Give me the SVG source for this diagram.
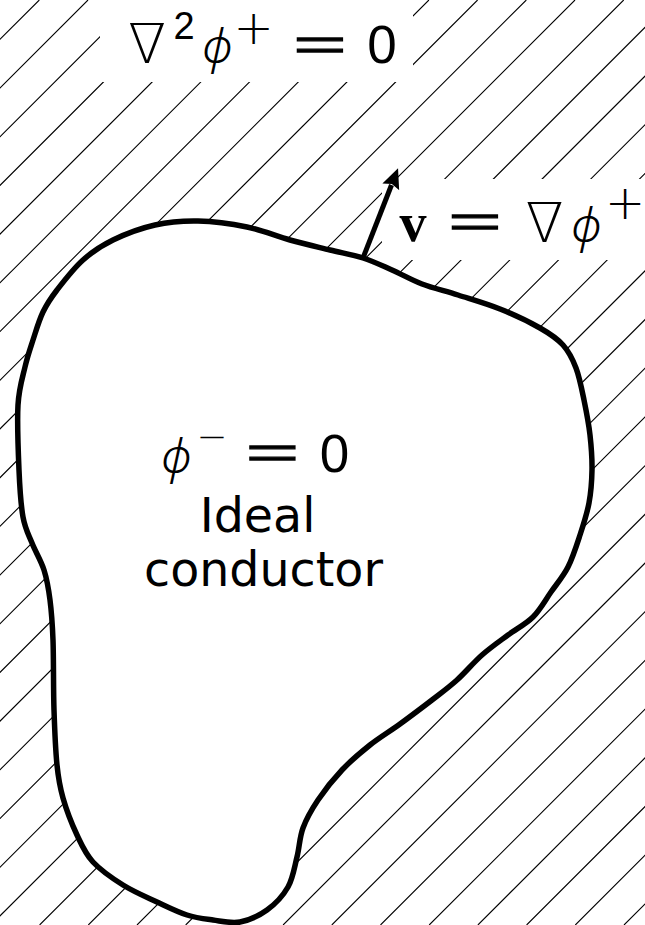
<svg xmlns="http://www.w3.org/2000/svg" width="645" height="925" viewBox="0 0 645 925">
<style>
.hatch{stroke:#000;stroke-width:1.1;fill:none}
.mask{fill:#fff}
.outline{fill:#fff;stroke:#000;stroke-width:5.5;stroke-linejoin:round}
.arrow{stroke:#000;stroke-width:5;fill:none}
.m{font-family:"DejaVu Sans ExtraLight","DejaVu Sans",sans-serif;font-weight:200;fill:#000;text-anchor:middle}
.eq{stroke:#000;stroke-width:1.3}
.d{font-family:"Liberation Sans",Arial,sans-serif;fill:#000;text-anchor:middle}
.phi{font-family:"Noto Sans","DejaVu Sans",sans-serif;font-weight:300;font-style:italic;fill:#000;text-anchor:middle}
.vb{font-family:"Liberation Serif","Times New Roman",serif;font-weight:bold;fill:#000;text-anchor:middle}
.lbl{font-family:"DejaVu Sans",Verdana,sans-serif;font-size:47.5px;fill:#000;text-anchor:middle}
</style>
<defs>
<marker id="ah" markerUnits="userSpaceOnUse" markerWidth="22" markerHeight="20" viewBox="0 0 22 20" refX="2" refY="10" orient="auto">
<path d="M0,1 L20,10 L0,19 L3,10 Z" fill="#000"/>
</marker>
</defs>
<rect width="645" height="925" fill="#fff"/>
<g id="hatching">
<path class="hatch" d="M39.3,0 L-885.7,925 M88,0 L-837,925 M136.7,0 L-788.3,925 M185.4,0 L-739.6,925 M234.1,0 L-690.9,925 M282.8,0 L-642.2,925 M331.5,0 L-593.5,925 M380.2,0 L-544.8,925 M428.9,0 L-496.1,925 M477.6,0 L-447.4,925 M526.3,0 L-398.7,925 M575,0 L-350,925 M623.7,0 L-301.3,925 M672.4,0 L-252.6,925 M721.1,0 L-203.9,925 M769.8,0 L-155.2,925 M818.5,0 L-106.5,925 M867.2,0 L-57.8,925 M915.9,0 L-9.1,925 M964.6,0 L39.6,925 M1013.3,0 L88.3,925 M1062,0 L137,925 M1110.7,0 L185.7,925 M1159.4,0 L234.4,925 M1208.1,0 L283.1,925 M1256.8,0 L331.8,925 M1305.5,0 L380.5,925 M1354.2,0 L429.2,925 M1402.9,0 L477.9,925 M1451.6,0 L526.6,925 M1500.3,0 L575.3,925 M1549,0 L624,925"/>
</g>
<g id="label-boxes">
<rect class="mask" x="100" y="-2" width="313" height="84"/>
<rect class="mask" x="382" y="179" width="265" height="81"/>
</g>
<g id="conductor">
<path class="outline" d="M198,221 C213.3,221.3 231.7,223.8 247,227 S276.2,236.2 290,240 S317.8,247 330,250 S352.7,254.7 363,258 S382.2,265.7 392,270 S411,279.8 422,284 S445,290.8 458,295 S486.3,303.5 500,309 S529.5,322 540,328 S557,338.3 563,345 S572.5,358.8 576,368 S581.7,388.8 584,400 S588.7,423.3 590,435 S592.2,458.7 592,470 S591,492.2 589,503 S583.5,524.3 580,535 S572.8,557.5 568,567 S556.8,583.7 551,592 S540.2,609.8 533,617 S516.5,628.7 508,635 S490.5,647.5 482,655 S465.3,672.5 457,680 S441.5,692.7 432,700 S410.3,716.5 400,724 S379.7,737.3 370,745 S350.7,760.8 342,770 S324.5,790.3 318,800 S306.5,818.5 303,828 S299.5,847.2 297,857 S293,878.2 288,887 S275,904.2 267,910 S249,920.3 240,922 S221.8,921.2 213,920 S196.3,918 187,915 S167.7,907 157,902 S133.7,891.7 123,885 S100.7,870.3 93,862 S82,845.7 77,835 S66.3,809.7 63,798 S58.5,779.7 57,765 S54.7,730.8 54,710 S53.7,658.3 53,640 S51.5,611.7 50,600 S47,579.5 44,570 S35.5,551.8 32,543 S25.2,529.2 23,517 S19.8,488.7 19,470 S17,422.2 18,405 S22.5,377.8 25,367 S30,349.2 33,340 S39,320.3 43,312 S50.3,298.7 57,290 S73.7,268.3 83,260 S101,245.8 113,240 S140.8,228.2 155,225 S182.7,220.7 198,221 Z"/>
<text class="lbl" x="257.5" y="532">Ideal</text>
<text class="lbl" x="263.5" y="586">conductor</text>
<g id="inner-eq">
<text class="phi" x="176.5" y="473" font-size="48">ϕ</text>
<text class="m" x="212" y="449" font-size="37">−</text>
<text class="m eq" x="272.5" y="474.5" font-size="72">=</text>
<text class="d" x="334.5" y="472" font-size="53">0</text>
</g>
</g>
<g id="laplace-label">
<text class="m" x="147" y="63" font-size="55">∇</text>
<text class="d" x="184" y="39" font-size="38">2</text>
<text class="phi" x="217.5" y="63" font-size="48">ϕ</text>
<text class="m" x="253.5" y="44" font-size="48">+</text>
<text class="m eq" x="320" y="66.5" font-size="72">=</text>
<text class="d" x="382" y="63" font-size="53">0</text>
</g>
<g id="velocity-label">
<text class="vb" x="413" y="241" font-size="54">v</text>
<text class="m eq" x="475" y="244" font-size="72">=</text>
<text class="m" x="544.5" y="242" font-size="55">∇</text>
<text class="phi" x="586.5" y="242" font-size="48">ϕ</text>
<text class="m" x="625" y="219" font-size="48">+</text>
</g>
<g id="connectors">
<line class="arrow" x1="363" y1="258" x2="391.5" y2="185" marker-end="url(#ah)"/>
</g>
</svg>
